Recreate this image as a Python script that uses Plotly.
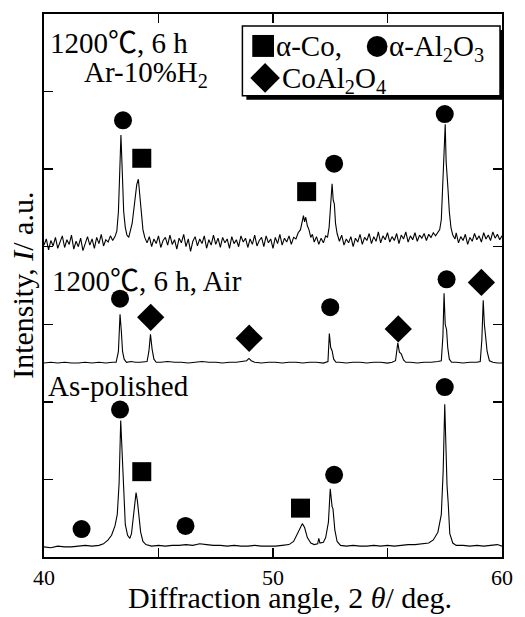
import plotly.graph_objects as go

# ---------------- data (2θ in deg., intensity in a.u. incl. vertical offset) ----------------
AS_POLISHED_X = [40.0, 40.3, 40.6, 40.9, 41.2, 41.5, 41.8, 42.1, 42.4, 42.6, 42.8, 42.95, 43.1, 43.2,
                 43.28, 43.35, 43.42, 43.48, 43.55, 43.65, 43.75, 43.82, 43.9, 44.02, 44.08, 44.14,
                 44.22, 44.32, 44.45, 44.7, 45.0, 45.3, 45.6, 45.9, 46.2, 46.5, 46.8, 47.1, 47.4,
                 47.7, 48.0, 48.3, 48.6, 48.9, 49.2, 49.5, 49.8, 50.1, 50.4, 50.7, 50.9, 51.05, 51.2,
                 51.28, 51.38, 51.5, 51.65, 51.8, 51.95, 52.0, 52.05, 52.2, 52.3, 52.42, 52.5, 52.58,
                 52.62, 52.7, 52.8, 52.95, 53.2, 53.5, 53.8, 54.1, 54.4, 54.7, 55.0, 55.3, 55.6, 55.9,
                 56.2, 56.5, 56.8, 57.0, 57.2, 57.35, 57.43, 57.5, 57.55, 57.6, 57.65, 57.72, 57.85,
                 58.0, 58.3, 58.6, 58.9, 59.2, 59.5, 59.8, 60.0]
AS_POLISHED_Y = [0.13, 0.12, 0.14, 0.13, 0.13, 0.14, 0.15, 0.14, 0.15, 0.17, 0.22, 0.28, 0.40, 0.55,
                 0.95, 1.76, 1.30, 0.70, 0.42, 0.28, 0.24, 0.30, 0.55, 0.83, 0.72, 0.50,
                 0.32, 0.20, 0.16, 0.14, 0.15, 0.14, 0.15, 0.15, 0.16, 0.15, 0.17, 0.16, 0.15,
                 0.15, 0.14, 0.15, 0.14, 0.14, 0.15, 0.14, 0.14, 0.14, 0.15, 0.16, 0.20, 0.28, 0.38,
                 0.43, 0.38, 0.25, 0.18, 0.16, 0.17, 0.24, 0.18, 0.19, 0.25, 0.45, 0.88, 0.65,
                 0.62, 0.35, 0.20, 0.15, 0.14, 0.15, 0.14, 0.14, 0.15, 0.14, 0.15, 0.14, 0.15, 0.16,
                 0.16, 0.17, 0.18, 0.22, 0.32, 0.55, 1.10, 1.97, 1.20, 0.92, 0.70, 0.30, 0.18,
                 0.15, 0.15, 0.14, 0.15, 0.14, 0.15, 0.16, 0.14]

AIR_X = [40.0, 40.3, 40.6, 40.9, 41.2, 41.5, 41.8, 42.1, 42.4, 42.7, 43.0, 43.15, 43.25, 43.32,
         43.38, 43.43, 43.5, 43.6, 43.8, 44.0, 44.2, 44.4, 44.5, 44.58, 44.65, 44.72, 44.8, 44.9,
         45.1, 45.4, 45.7, 46.0, 46.3, 46.6, 46.9, 47.2, 47.5, 47.8, 48.1, 48.4, 48.7, 48.85,
         48.95, 49.05, 49.2, 49.5, 49.8, 50.1, 50.4, 50.7, 51.0, 51.3, 51.6, 51.9, 52.2, 52.4,
         52.46, 52.52, 52.58, 52.65, 52.75, 52.9, 53.2, 53.5, 53.8, 54.1, 54.4, 54.7, 55.0,
         55.2, 55.35, 55.45, 55.52, 55.6, 55.7, 55.8, 56.0, 56.3, 56.6, 56.9, 57.2, 57.35,
         57.42, 57.47, 57.52, 57.58, 57.63, 57.7, 57.8, 58.0, 58.3, 58.6, 58.9, 59.05, 59.12,
         59.18, 59.23, 59.28, 59.35, 59.45, 59.6, 59.8, 60.0]
AIR_Y = [2.50, 2.51, 2.50, 2.51, 2.50, 2.50, 2.51, 2.50, 2.51, 2.50, 2.51, 2.51, 2.65, 3.13,
         2.90, 2.65, 2.55, 2.51, 2.52, 2.51, 2.51, 2.52, 2.52, 2.65, 2.87, 2.68, 2.55, 2.51,
         2.51, 2.52, 2.51, 2.51, 2.50, 2.51, 2.52, 2.51, 2.51, 2.50, 2.51, 2.51, 2.52, 2.53,
         2.56, 2.53, 2.51, 2.50, 2.51, 2.51, 2.50, 2.51, 2.51, 2.50, 2.51, 2.51, 2.50, 2.52,
         2.88, 2.70, 2.66, 2.55, 2.51, 2.51, 2.50, 2.51, 2.51, 2.50, 2.51, 2.51, 2.50,
         2.51, 2.53, 2.76, 2.64, 2.62, 2.54, 2.51, 2.51, 2.50, 2.51, 2.51, 2.52, 2.53,
         2.85, 3.40, 3.00, 2.93, 2.70, 2.55, 2.51, 2.51, 2.50, 2.51, 2.51, 2.52, 2.80,
         3.31, 3.00, 2.88, 2.65, 2.53, 2.51, 2.50, 2.50]

AR_H2_X = [40.0, 40.1, 40.2, 40.3, 40.4, 40.5, 40.6, 40.7, 40.8, 40.9, 41.0, 41.1, 41.2, 41.3,
           41.4, 41.5, 41.6, 41.7, 41.8, 41.9, 42.0, 42.1, 42.2, 42.3, 42.4, 42.5, 42.6, 42.7,
           42.8, 42.9, 43.0, 43.1, 43.18, 43.25, 43.3, 43.36, 43.42, 43.48, 43.55, 43.62, 43.7,
           43.78, 43.85, 43.95, 44.05, 44.12, 44.18, 44.25, 44.32, 44.4, 44.5, 44.6, 44.7, 44.8,
           44.9, 45.0, 45.1, 45.2, 45.3, 45.4, 45.5, 45.6, 45.7, 45.8, 45.9, 46.0, 46.1, 46.2,
           46.3, 46.4, 46.5, 46.6, 46.7, 46.8, 46.9, 47.0, 47.1, 47.2, 47.3, 47.4, 47.5, 47.6,
           47.7, 47.8, 47.9, 48.0, 48.1, 48.2, 48.3, 48.4, 48.5, 48.6, 48.7, 48.8, 48.9, 49.0,
           49.1, 49.2, 49.3, 49.4, 49.5, 49.6, 49.7, 49.8, 49.9, 50.0, 50.1, 50.2, 50.3, 50.4,
           50.5, 50.6, 50.7, 50.8, 50.9, 51.0, 51.1, 51.2, 51.27, 51.33, 51.38, 51.43, 51.5,
           51.57, 51.65, 51.72, 51.8, 51.9, 52.0, 52.1, 52.2, 52.3, 52.38, 52.45, 52.52, 52.58,
           52.63, 52.68, 52.73, 52.8, 52.9, 53.0, 53.1, 53.2, 53.3, 53.4, 53.5, 53.6, 53.7, 53.8,
           53.9, 54.0, 54.1, 54.2, 54.3, 54.4, 54.5, 54.6, 54.7, 54.8, 54.9, 55.0, 55.1, 55.2,
           55.3, 55.4, 55.5, 55.6, 55.7, 55.8, 55.9, 56.0, 56.1, 56.2, 56.3, 56.4, 56.5, 56.6,
           56.7, 56.8, 56.9, 57.0, 57.1, 57.2, 57.28, 57.35, 57.42, 57.47, 57.52, 57.56, 57.6,
           57.64, 57.7, 57.77, 57.85, 57.95, 58.0, 58.1, 58.2, 58.3, 58.4, 58.5, 58.6, 58.7,
           58.8, 58.9, 59.0, 59.1, 59.2, 59.3, 59.4, 59.5, 59.6, 59.7, 59.8, 59.9, 60.0]
AR_H2_Y = [4.02, 4.10, 3.96, 4.08, 4.01, 4.12, 3.98, 4.06, 4.14, 3.99, 4.09, 4.03, 4.15, 3.97,
           4.07, 4.00, 4.11, 3.95, 4.05, 4.13, 4.02, 4.10, 3.98, 4.12, 4.04, 4.16, 4.01, 4.09,
           4.06, 4.14, 4.08, 4.13, 4.20, 4.45, 4.90, 5.44, 4.95, 4.45, 4.25, 4.15, 4.12,
           4.20, 4.30, 4.55, 4.80, 4.87, 4.65, 4.40, 4.22, 4.12, 4.05, 4.13, 4.00, 4.10,
           4.04, 4.14, 3.99, 4.08, 4.12, 4.02, 4.15, 4.03, 4.09, 3.97, 4.11, 4.05, 4.16, 4.00,
           4.10, 3.94, 4.07, 4.13, 4.01, 4.10, 4.04, 4.14, 3.98, 4.09, 4.02, 4.15, 4.03, 4.11,
           3.99, 4.12, 4.05, 4.10, 3.98, 4.13, 4.04, 4.09, 4.00, 4.14, 4.06, 4.11, 3.99, 4.10,
           4.03, 4.15, 4.01, 4.08, 4.12, 4.00, 4.14, 4.05, 4.10, 3.98, 4.12, 4.04, 4.16, 4.02,
           4.11, 4.06, 4.14, 4.03, 4.12, 4.10, 4.18, 4.22, 4.33, 4.40, 4.32, 4.38, 4.27,
           4.22, 4.12, 4.16, 4.06, 4.13, 4.03, 4.11, 4.05, 4.14, 4.12, 4.25, 4.55, 4.81,
           4.60, 4.55, 4.30, 4.17, 4.07, 4.15, 4.02, 4.10, 4.05, 4.13, 4.00, 4.11, 4.06, 4.16,
           4.03, 4.12, 4.08, 4.17, 4.04, 4.13, 4.07, 4.19, 4.05, 4.14, 4.09, 4.18, 4.06, 4.13,
           4.08, 4.17, 4.04, 4.15, 4.10, 4.19, 4.06, 4.14, 4.09, 4.18, 4.07, 4.15, 4.11, 4.17,
           4.08, 4.16, 4.12, 4.18, 4.14, 4.19, 4.22, 4.35, 4.80, 5.30, 5.58, 5.10, 4.95,
           4.75, 4.45, 4.25, 4.15, 4.10, 4.18, 4.05, 4.13, 4.08, 4.16, 4.03, 4.12, 4.07,
           4.17, 4.09, 4.14, 4.06, 4.18, 4.10, 4.15, 4.08, 4.19, 4.11, 4.16, 4.09, 4.14]

# phase markers: alpha-Al2O3 (circle), alpha-Co (square), CoAl2O4 (diamond)
CIRCLE_X = [41.64, 43.32, 46.18, 52.67, 57.50, 43.32, 52.50, 57.58, 43.45, 52.67, 57.50]
CIRCLE_Y = [0.36, 1.90, 0.40, 1.06, 2.19, 3.33, 3.22, 3.58, 5.63, 5.07, 5.71]
SQUARE_X = [44.27, 51.20, 44.27, 51.47]
SQUARE_Y = [1.10, 0.63, 5.14, 4.71]
DIAMOND_X = [44.66, 48.96, 55.47, 59.10]
DIAMOND_Y = [3.09, 2.82, 2.94, 3.54]

X_TICKS = [40, 45, 50, 55, 60]
X_TICK_TEXT = ["40", "", "50", "", "60"]
Y_TICKS = [1, 2, 3, 4, 5, 6]

SERIF = "Liberation Serif, Noto Sans CJK JP, serif"

# figure fills the page (body margin removed below); positions in screenshot pixels
W, H = 525, 617
L, R, T, B = 44, 508, 13, 557


def px(xpix):
    return (xpix - L) / (R - L)


def py(ypix):
    return (B - ypix) / (B - T)


fig = go.Figure()
for xs, ys in [(AS_POLISHED_X, AS_POLISHED_Y), (AIR_X, AIR_Y), (AR_H2_X, AR_H2_Y)]:
    fig.add_trace(go.Scatter(x=xs, y=ys, mode="lines",
                             line=dict(color="black", width=1.1), showlegend=False,
                             hoverinfo="skip"))

fig.add_trace(go.Scatter(x=CIRCLE_X, y=CIRCLE_Y, mode="markers", showlegend=False,
                         marker=dict(symbol="circle", size=18, color="black")))
fig.add_trace(go.Scatter(x=SQUARE_X, y=SQUARE_Y, mode="markers", showlegend=False,
                         marker=dict(symbol="square", size=19, color="black")))
fig.add_trace(go.Scatter(x=DIAMOND_X, y=DIAMOND_Y, mode="markers", showlegend=False,
                         marker=dict(symbol="diamond", size=21, color="black")))

shapes = []
# legend box with drop shadow
shapes.append(dict(type="rect", xref="paper", yref="paper", x0=px(249), x1=px(510),
                   y0=py(99), y1=py(29), fillcolor="black", line=dict(width=0), layer="above"))
shapes.append(dict(type="rect", xref="paper", yref="paper", x0=px(245), x1=px(506),
                   y0=py(95), y1=py(25), fillcolor="white",
                   line=dict(color="black", width=1.5), layer="above"))
# legend symbols
shapes.append(dict(type="rect", xref="paper", yref="paper", x0=px(255), x1=px(277),
                   y0=py(56), y1=py(34), fillcolor="black", line=dict(width=0), layer="above"))
shapes.append(dict(type="circle", xref="paper", yref="paper", x0=px(371), x1=px(392),
                   y0=py(56), y1=py(35), fillcolor="black", line=dict(width=0), layer="above"))
cx, cy, r = 268, 77, 15
shapes.append(dict(type="path", xref="paper", yref="paper",
                   path=f"M {px(cx - r)} {py(cy)} L {px(cx)} {py(cy - r)} L {px(cx + r)} {py(cy)} "
                        f"L {px(cx)} {py(cy + r)} Z",
                   fillcolor="black", line=dict(width=0), layer="above"))

FS = 29
annotations = []


def label(text, xpix, ypix, size=FS, xanchor="left", yanchor="middle", angle=0):
    annotations.append(dict(text=text, xref="paper", yref="paper", x=px(xpix), y=py(ypix),
                            xanchor=xanchor, yanchor=yanchor, showarrow=False, textangle=angle,
                            font=dict(family=SERIF, size=size, color="black")))


label("1200℃, 6 h", 48, 42)
label("Ar-10%H<sub>2</sub>", 83, 73)
label("1200℃, 6 h, Air", 50, 280)
label("As-polished", 46, 386)
label("α-Co,", 277, 45)
label("α-Al<sub>2</sub>O<sub>3</sub>", 391, 47)
label("CoAl<sub>2</sub>O<sub>4</sub>", 283, 79)
label("Diffraction angle, 2 <i>θ</i>/ deg.", 293, 598, size=30, xanchor="center")
label("Intensity, <i>I</i>/ a.u.", 22, 285, size=30, xanchor="center", angle=-90)

axis_common = dict(showline=True, linecolor="black", linewidth=1.6, mirror="ticks",
                   ticks="inside", ticklen=9, tickwidth=1.3, tickcolor="black",
                   showgrid=False, zeroline=False)

fig.update_layout(
    width=W, height=H,
    margin=dict(l=L, r=W - R, t=T, b=H - B, pad=0),
    paper_bgcolor="white", plot_bgcolor="white",
    xaxis=dict(range=[40, 60], tickvals=X_TICKS, ticktext=X_TICK_TEXT,
               tickfont=dict(family=SERIF, size=22, color="black"), **axis_common),
    yaxis=dict(range=[0, 7], tickvals=Y_TICKS, showticklabels=False, **axis_common),
    shapes=shapes, annotations=annotations, showlegend=False,
)

fig.write_html("out.html", config={"displayModeBar": False, "staticPlot": True},
               post_script="document.body.style.margin='0';document.body.style.overflow='hidden';")
